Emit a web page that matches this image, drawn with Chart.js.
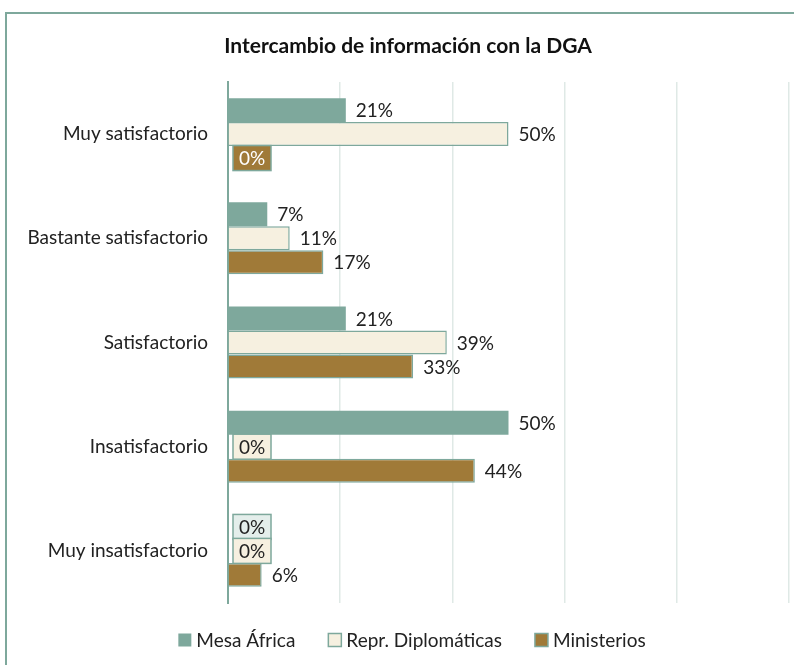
<!DOCTYPE html>
<html>
<head>
<meta charset="utf-8">
<script src="https://cdn.jsdelivr.net/npm/chart.js@4"></script>
<style>
html,body{margin:0;padding:0;background:#fff;}
#wrap{position:absolute;left:0;top:0;width:794px;height:665px;}
</style>
</head>
<body>
<div id="wrap"><canvas id="c" width="794" height="665"></canvas></div>
<script>
const chartTitle = "Intercambio de información con la DGA";
const categories = ["Muy satisfactorio", "Bastante satisfactorio", "Satisfactorio", "Insatisfactorio", "Muy insatisfactorio"];
const seriesNames = ["Mesa África", "Repr. Diplomáticas", "Ministerios"];
const mesaAfrica = [21, 7, 21, 50, 0];
const reprDiplomaticas = [50, 11, 39, 0, 0];
const ministerios = [0, 17, 33, 44, 6];
const xTicks = [0, 20, 40, 60, 80, 100];

const FONT = "Lato, 'Open Sans', sans-serif";
const TEAL = "#7ea89c";
const CREAM = "#f6f0e0";
const BROWN = "#a07a38";

const zeroStyles = [
  {fill: "#e4eeeb", text: "#222"},
  {fill: CREAM, text: "#222"},
  {fill: BROWN, text: "#fff"}
];

const framePlugin = {
  id: "frame",
  beforeDraw(chart) {
    const ctx = chart.ctx;
    ctx.save();
    ctx.fillStyle = "#fff";
    ctx.fillRect(0, 0, chart.width, chart.height);
    ctx.strokeStyle = TEAL;
    ctx.lineWidth = 2;
    ctx.beginPath();
    ctx.moveTo(6, chart.height + 5);
    ctx.lineTo(6, 13);
    ctx.lineTo(chart.width + 5, 13);
    ctx.stroke();
    ctx.fillStyle = "#111";
    ctx.font = "bold 21px " + FONT;
    ctx.textAlign = "center";
    ctx.textBaseline = "middle";
    ctx.fillText(chartTitle, 408, 46);
    ctx.restore();
  }
};

const labelPlugin = {
  id: "barLabels",
  afterDatasetsDraw(chart) {
    const ctx = chart.ctx;
    ctx.save();
    ctx.font = "19px " + FONT;
    ctx.textBaseline = "middle";
    chart.data.datasets.forEach((ds, di) => {
      const meta = chart.getDatasetMeta(di);
      meta.data.forEach((bar, i) => {
        const v = ds.data[i];
        const txt = v + "%";
        if (v === 0) {
          const w = 38, h = 25;
          const x0 = chart.chartArea.left + 5;
          const y0 = bar.y - h / 2;
          ctx.fillStyle = zeroStyles[di].fill;
          ctx.fillRect(x0, y0, w, h);
          ctx.strokeStyle = TEAL;
          ctx.lineWidth = 1.5;
          ctx.strokeRect(x0, y0, w, h);
          ctx.fillStyle = zeroStyles[di].text;
          ctx.textAlign = "center";
          ctx.fillText(txt, x0 + w / 2, bar.y + 1);
        } else {
          ctx.fillStyle = "#222";
          ctx.textAlign = "left";
          ctx.fillText(txt, bar.x + 10, bar.y + 1);
        }
      });
    });
    ctx.restore();
  }
};

const legendPlugin = {
  id: "customLegend",
  afterDraw(chart) {
    const ctx = chart.ctx;
    ctx.save();
    ctx.font = "19px " + FONT;
    ctx.textBaseline = "middle";
    ctx.textAlign = "left";
    const box = 13, gapBox = 5, gapItem = 33;
    const ds = chart.data.datasets;
    const widths = ds.map(d => box + gapBox + ctx.measureText(d.label).width);
    const total = widths.reduce((a, b) => a + b, 0) + gapItem * (ds.length - 1);
    let x = 412 - total / 2;
    const y = 640;
    ds.forEach((d, i) => {
      ctx.fillStyle = d.backgroundColor;
      ctx.fillRect(x, y - box / 2, box, box);
      if (i > 0) {
        ctx.strokeStyle = TEAL;
        ctx.lineWidth = 1.5;
        ctx.strokeRect(x, y - box / 2, box, box);
      }
      ctx.fillStyle = "#222";
      ctx.fillText(d.label, x + box + gapBox, y + 1);
      x += widths[i] + gapItem;
    });
    ctx.restore();
  }
};

new Chart(document.getElementById("c"), {
  type: "bar",
  data: {
    labels: categories,
    datasets: [
      {label: seriesNames[0], data: mesaAfrica, backgroundColor: TEAL, borderColor: TEAL, borderWidth: 0},
      {label: seriesNames[1], data: reprDiplomaticas, backgroundColor: CREAM, borderColor: TEAL, borderWidth: 1.5},
      {label: seriesNames[2], data: ministerios, backgroundColor: BROWN, borderColor: TEAL, borderWidth: 1.5}
    ]
  },
  options: {
    indexAxis: "y",
    responsive: false,
    animation: false,
    devicePixelRatio: 1,
    categoryPercentage: 0.69,
    barPercentage: 1.0,
    layout: {padding: {top: 82, right: 5, bottom: 62, left: 0}},
    scales: {
      x: {
        min: xTicks[0],
        max: xTicks[xTicks.length - 1],
        ticks: {display: false, stepSize: 20},
        afterBuildTicks(scale) { scale.ticks = xTicks.map(v => ({value: v})); },
        grid: {color: "#dfe9e6", lineWidth: 1.5, drawTicks: false},
        border: {display: false},
        afterFit(scale) { scale.height = 0; }
      },
      y: {
        ticks: {color: "#222", font: {family: FONT, size: 19}, padding: 20},
        grid: {display: false, drawTicks: false},
        border: {display: true, color: TEAL, width: 2},
        afterFit(scale) { scale.width = 228; }
      }
    },
    plugins: {
      title: {display: false},
      tooltip: {enabled: false},
      legend: {display: false}
    }
  },
  plugins: [framePlugin, labelPlugin, legendPlugin]
});
</script>
</body>
</html>
